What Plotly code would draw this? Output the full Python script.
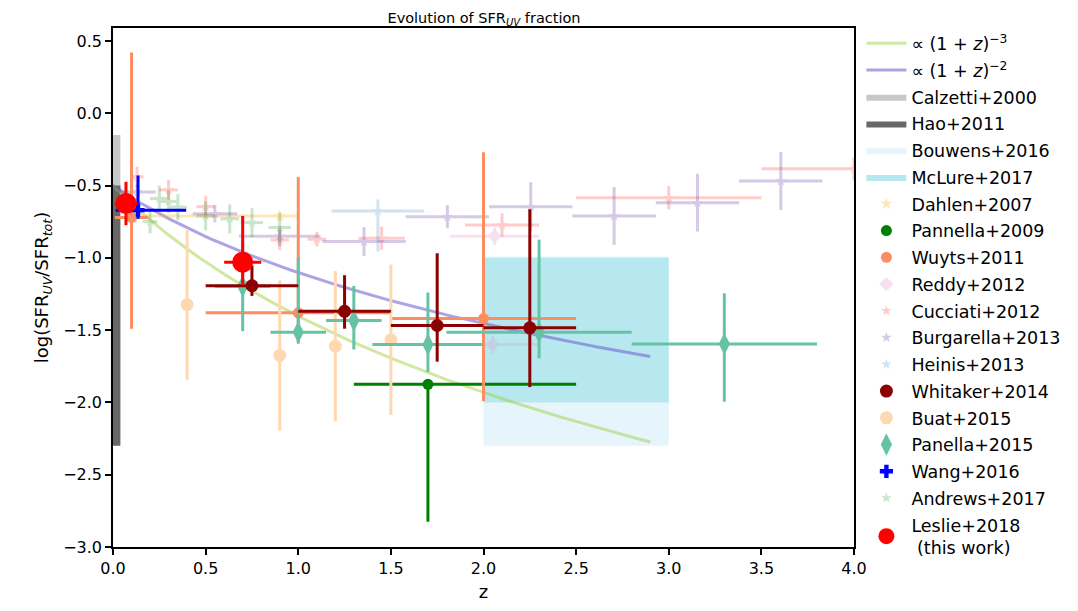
import numpy as np
import plotly.graph_objects as go

# ---------------- data ----------------
# model curves: log f = norm - n*log10(1+z)
curve_norm = -0.5
curve_zmax = 2.9

# shaded regions [z0, z1, y0, y1]
calzetti_box = [0.0, 0.04, -0.15, -0.6]
hao_box = [0.0, 0.04, -0.5, -2.3]
bouwens_box = [2.0, 3.0, -0.99, -2.3]
mclure_box = [2.0, 3.0, -1.0, -2.0]

dahlen_z = [0.9]
dahlen_y = [-0.71]
dahlen_zlo = [0.77]
dahlen_zhi = [0.1]
dahlen_yerr = [0.03]

pannella_z = [1.7]
pannella_y = [-1.875]
pannella_zlo = [0.4]
pannella_zhi = [0.8]
pannella_yup = [0.0]
pannella_ydn = [0.95]

wuyts_z = [0.1, 1.0, 2.0]
wuyts_y = [-0.72, -1.38, -1.42]
wuyts_zlo = [0.09, 0.5, 0.5]
wuyts_zhi = [0.09, 0.5, 0.5]
wuyts_yup = [1.14, 0.94, 1.15]
wuyts_ydn = [0.77, 0.2, 0.57]

reddy_z = [2.06, 2.05]
reddy_y = [-0.85, -1.6]
reddy_zerr = [0.24, 0.25]
reddy_yerr = [0.06, 0.06]

cucciati_z = [0.13, 0.3, 0.5, 0.9, 1.1, 1.45, 2.1, 3.0, 4.0]
cucciati_y = [-0.44, -0.53, -0.646, -0.876, -0.871, -0.864, -0.772, -0.584, -0.384]
cucciati_zerr = [0.035, 0.05, 0.05, 0.05, 0.05, 0.125, 0.2, 0.5, 0.5]
cucciati_yerr = [0.07, 0.07, 0.075, 0.07, 0.05, 0.08, 0.08, 0.08, 0.08]

burgarella_z = [0.13, 0.55, 0.9, 1.355, 1.805, 2.255, 2.705, 3.155, 3.605]
burgarella_y = [-0.545, -0.694, -0.85, -0.887, -0.715, -0.646, -0.71, -0.618, -0.469]
burgarella_zerr = [0.1, 0.12, 0.22, 0.225, 0.225, 0.225, 0.225, 0.225, 0.225]
burgarella_yerr = [0.05, 0.06, 0.07, 0.1, 0.08, 0.17, 0.2, 0.2, 0.2]

heinis_z = [1.43]
heinis_y = [-0.676]
heinis_zerr = [0.25]
heinis_yup = [0.08]
heinis_ydn = [0.28]

whitaker_z = [0.75, 1.25, 1.75, 2.25]
whitaker_y = [-1.193, -1.37, -1.468, -1.484]
whitaker_zerr = [0.25, 0.25, 0.25, 0.25]
whitaker_yup = [0.14, 0.25, 0.5, 0.82]
whitaker_ydn = [0.07, 0.12, 0.25, 0.41]

buat_z = [0.4, 0.9, 1.2, 1.5]
buat_y = [-1.324, -1.675, -1.611, -1.567]
buat_yerr = [0.52, 0.52, 0.52, 0.52]

panella_z = [0.7, 1.0, 1.3, 1.7, 2.3, 3.3]
panella_y = [-1.197, -1.514, -1.434, -1.6, -1.514, -1.595]
panella_zerr = [0.15, 0.15, 0.15, 0.3, 0.5, 0.5]
panella_yup = [0.31, 0.52, 0.24, 0.36, 0.64, 0.35]
panella_ydn = [0.31, 0.08, 0.2, 0.19, 0.18, 0.4]

wang_z = [0.135]
wang_y = [-0.67]
wang_zlo = [0.12]
wang_zhi = [0.26]
wang_yup = [0.24]
wang_ydn = [0.06]

andrews_z = [0.12, 0.2, 0.25, 0.3, 0.35, 0.5, 0.63, 0.75, 0.9]
andrews_y = [-0.68, -0.75, -0.59, -0.61, -0.65, -0.71, -0.73, -0.756, -0.79]
andrews_zerr = [0.04, 0.04, 0.05, 0.05, 0.05, 0.05, 0.05, 0.06, 0.06]
andrews_yerr = [0.08, 0.08, 0.09, 0.08, 0.09, 0.1, 0.1, 0.1, 0.1]

leslie_z = [0.07, 0.7]
leslie_y = [-0.624, -1.03]
leslie_zerr = [0.06, 0.1]
leslie_yup = [0.15, 0.32]
leslie_ydn = [0.15, 0.16]

# ---------------- figure ----------------
fig = go.Figure()


def box(b, color, name, r):
    z0, z1, y0, y1 = b
    fig.add_trace(go.Scatter(
        x=[z0, z1, z1, z0, z0], y=[y0, y0, y1, y1, y0], mode="lines",
        fill="toself", fillcolor=color, line=dict(width=0, color=color),
        name=name, legendrank=r, legendgroup=name, hoverinfo="skip"))


box(calzetti_box, "#c8c8c8", "Calzetti+2000", 3)
box(hao_box, "#686868", "Hao+2011", 4)
box(bouwens_box, "#e6f4fc", "Bouwens+2016", 5)
box(mclure_box, "#b8e8ef", "McLure+2017", 6)

zc = np.linspace(0, curve_zmax, 100)
fig.add_trace(go.Scatter(x=zc, y=curve_norm - 3 * np.log10(1 + zc), mode="lines",
                         line=dict(color="rgba(154,205,50,0.45)", width=3),
                         name="∝ (1 + <i>z</i>)<sup>−3</sup>", legendrank=1,
                         legendgroup="c3"))
fig.add_trace(go.Scatter(x=zc, y=curve_norm - 2 * np.log10(1 + zc), mode="lines",
                         line=dict(color="rgba(106,90,205,0.55)", width=3),
                         name="∝ (1 + <i>z</i>)<sup>−2</sup>", legendrank=2,
                         legendgroup="c2"))


def errs(name, x, y, color, symbol, size, r, xlo=None, xhi=None, ylo=None, yhi=None,
         opacity=1.0, thick=3):
    ex = None
    if xhi is not None:
        ex = dict(type="data", symmetric=False, array=xhi,
                  arrayminus=xlo if xlo is not None else xhi,
                  color=color, thickness=thick, width=0)
    ey = None
    if yhi is not None:
        ey = dict(type="data", symmetric=False, array=yhi,
                  arrayminus=ylo if ylo is not None else yhi,
                  color=color, thickness=thick, width=0)
    fig.add_trace(go.Scatter(
        x=x, y=y, mode="markers", name=name, legendrank=r, legendgroup=name,
        opacity=opacity,
        marker=dict(color=color, symbol=symbol, size=size, line=dict(width=0)),
        error_x=ex, error_y=ey))


errs("Dahlen+2007", dahlen_z, dahlen_y, "rgb(250,185,60)", "star", 9, 7,
     xlo=dahlen_zlo, xhi=dahlen_zhi, yhi=dahlen_yerr, opacity=0.35)
errs("Reddy+2012", reddy_z, reddy_y, "#e78ac3", "diamond", 11, 10,
     xhi=reddy_zerr, yhi=reddy_yerr, opacity=0.25)
errs("Cucciati+2012", cucciati_z, cucciati_y, "red", "star", 8, 11,
     xhi=cucciati_zerr, yhi=cucciati_yerr, opacity=0.2)
errs("Burgarella+2013", burgarella_z, burgarella_y, "#7b4fb0", "star", 8, 12,
     xhi=burgarella_zerr, yhi=burgarella_yerr, opacity=0.3)
errs("Heinis+2013", heinis_z, heinis_y, "#1f77b4", "star", 8, 13,
     xhi=heinis_zerr, ylo=heinis_ydn, yhi=heinis_yup, opacity=0.2)
errs("Andrews+2017", andrews_z, andrews_y, "green", "star", 8, 18,
     xhi=andrews_zerr, yhi=andrews_yerr, opacity=0.2)
errs("Pannella+2009", pannella_z, pannella_y, "green", "circle", 11, 8,
     xlo=pannella_zlo, xhi=pannella_zhi, ylo=pannella_ydn, yhi=pannella_yup)
errs("Wuyts+2011", wuyts_z, wuyts_y, "#fc8d62", "circle", 11, 9,
     xlo=wuyts_zlo, xhi=wuyts_zhi, ylo=wuyts_ydn, yhi=wuyts_yup)
errs("Buat+2015", buat_z, buat_y, "#fed8b1", "circle", 13, 15,
     yhi=buat_yerr)
errs("Panella+2015", panella_z, panella_y, "#66c2a5", "diamond-tall", 16, 16,
     xhi=panella_zerr, ylo=panella_ydn, yhi=panella_yup)
errs("Whitaker+2014", whitaker_z, whitaker_y, "darkred", "circle", 13, 14,
     xhi=whitaker_zerr, ylo=whitaker_ydn, yhi=whitaker_yup)
errs("Wang+2016", wang_z, wang_y, "blue", "cross", 11, 17,
     xlo=wang_zlo, xhi=wang_zhi, ylo=wang_ydn, yhi=wang_yup)
errs("Leslie+2018<br> (this work)", leslie_z, leslie_y, "red", "circle", 21, 19,
     xhi=leslie_zerr, ylo=leslie_ydn, yhi=leslie_yup)

font = "DejaVu Sans"
fig.update_layout(
    width=1078, height=611,
    margin=dict(l=113, r=223, t=28, b=62),
    plot_bgcolor="white", paper_bgcolor="white",
    font=dict(family=font, size=16, color="black"),
    title=dict(text="Evolution of SFR<sub><i>UV</i></sub> fraction",
               x=0.449, xanchor="center", y=1 - 18 / 611, yanchor="middle",
               font=dict(size=14.5)),
    showlegend=True,
    legend=dict(x=1.01, xanchor="left", y=1.005, yanchor="top",
                font=dict(size=17.5), tracegroupgap=1, itemwidth=40,
                maxheight=600, bgcolor="rgba(0,0,0,0)"),
    xaxis=dict(range=[0, 4.0], tickvals=[0, 0.5, 1, 1.5, 2, 2.5, 3, 3.5, 4],
               ticktext=["0.0", "0.5", "1.0", "1.5", "2.0", "2.5", "3.0", "3.5", "4.0"],
               showgrid=False, zeroline=False, showline=True, linecolor="black",
               linewidth=1.5, mirror=True, ticks="outside", ticklen=6,
               tickwidth=1.5, tickcolor="black",
               title=dict(text="z", font=dict(size=18), standoff=8)),
    yaxis=dict(range=[-3.0, 0.59], tickvals=[0.5, 0, -0.5, -1, -1.5, -2, -2.5, -3],
               ticktext=["0.5", "0.0", "−0.5", "−1.0", "−1.5", "−2.0", "−2.5", "−3.0"],
               showgrid=False, zeroline=False, showline=True, linecolor="black",
               linewidth=1.5, mirror=True, ticks="outside", ticklen=6,
               tickwidth=1.5, tickcolor="black",
               title=dict(text="log(SFR<sub><i>UV</i></sub>/SFR<sub><i>tot</i></sub>)",
                          font=dict(size=18), standoff=10)),
)

fig.write_html("out.html")
